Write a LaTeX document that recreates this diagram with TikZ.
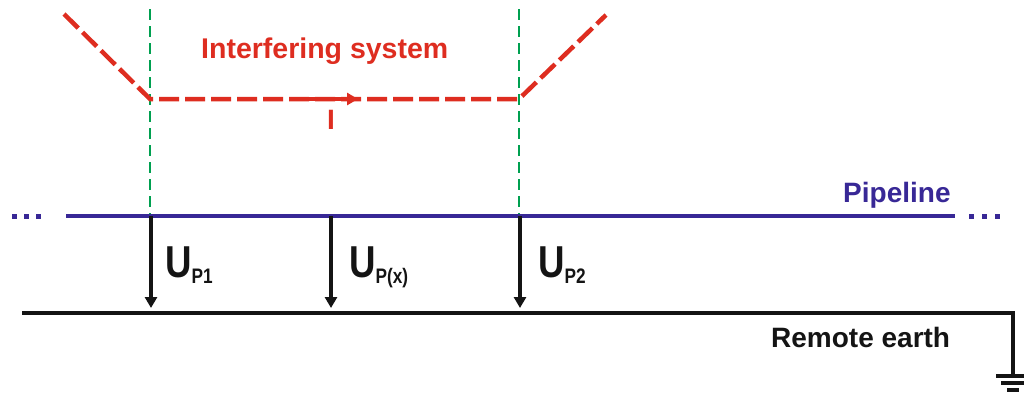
\documentclass[tikz,border=0pt]{standalone}
\usepackage{fontspec}
\setmainfont{Liberation Sans}
\newfontfamily\narrowfont[FakeStretch=0.82]{Liberation Sans}
\usetikzlibrary{arrows.meta}
\definecolor{ired}{RGB}{222,45,32}
\definecolor{igreen}{RGB}{0,160,80}
\definecolor{pblue}{RGB}{56,40,150}
\definecolor{eblack}{RGB}{20,20,20}
\tikzset{
  redline/.style={draw=ired, line width=4.5pt, dash pattern=on 20pt off 6pt},
  greenline/.style={draw=igreen, line width=2.5pt, dash pattern=on 11pt off 6pt},
  pipe/.style={draw=pblue, line width=4.5pt},
  earthline/.style={draw=eblack, line width=4.5pt},
  uarrow/.style={draw=eblack, line width=3.5pt, -{Triangle[width=12pt,length=11pt]}},
  lbl/.style={inner sep=0pt, anchor=base west, font=\bfseries\fontsize{28}{28}\selectfont},
  ulbl/.style={inner sep=0pt, anchor=base west, text=eblack, font=\narrowfont\bfseries},
}
\newcommand{\ulabel}[1]{{\fontsize{44.7}{44.7}\selectfont U}{\fontsize{21}{21}\selectfont\raisebox{-6pt}{#1}}}
\begin{document}
\begin{tikzpicture}[x=1pt,y=-1pt]
\useasboundingbox (0,0) rectangle (1024,392);
% interfering system
\coordinate (A) at (64,14);
\coordinate (B) at (150,99);
\coordinate (C) at (519,99);
\coordinate (D) at (606,15);
\coordinate (G1t) at (150,9);
\coordinate (G1b) at (150,214);
\coordinate (G2t) at (519,9);
\coordinate (G2b) at (519,214);
\draw[greenline] (G1t) -- (G1b);
\draw[greenline] (G2t) -- (G2b);
\draw[redline] (A) -- (B) -- (C) -- (D);
\coordinate (Is) at (305,99);
\coordinate (Ie) at (358,99);
\draw[draw=ired, line width=4.5pt, -{Triangle[width=12pt,length=11pt]}] (Is) -- (Ie);
\node[lbl, text=ired, font=\bfseries\fontsize{28.5}{28.5}\selectfont] (title) at (201,58) {Interfering system};
\node[lbl, text=ired] (Ilbl) at (327,129) {I};
% pipeline
\coordinate (P0) at (66,216);
\coordinate (P1) at (955,216);
\draw[pipe] (P0) -- (P1);
\foreach \x in {12,24,36,969,982,995} \fill[pblue] (\x,213.5) rectangle ++(5,5);
\node[lbl, text=pblue] (pipelbl) at (843,202) {Pipeline};
% potential arrows
\coordinate (a1) at (151,216); \coordinate (b1) at (151,308);
\coordinate (a2) at (331,216); \coordinate (b2) at (331,308);
\coordinate (a3) at (520,216); \coordinate (b3) at (520,308);
\draw[uarrow] (a1) -- (b1);
\draw[uarrow] (a2) -- (b2);
\draw[uarrow] (a3) -- (b3);
\node[ulbl] (u1) at (165,277) {\ulabel{P1}};
\node[ulbl] (u2) at (349,277) {\ulabel{P(x)}};
\node[ulbl] (u3) at (538,277) {\ulabel{P2}};
% remote earth
\coordinate (E0) at (22,313);
\coordinate (E1) at (1013,313);
\coordinate (E2) at (1013,376);
\draw[earthline] (E0) -- (E1) -- (E2);
\coordinate (g1l) at (996,376); \coordinate (g1r) at (1030,376);
\coordinate (g2l) at (1001,383); \coordinate (g2r) at (1025,383);
\coordinate (g3l) at (1007,390); \coordinate (g3r) at (1019,390);
\draw[earthline] (g1l) -- (g1r);
\draw[earthline] (g2l) -- (g2r);
\draw[earthline] (g3l) -- (g3r);
\node[lbl, text=eblack] (earthlbl) at (771,347) {Remote earth};
\end{tikzpicture}
\end{document}
